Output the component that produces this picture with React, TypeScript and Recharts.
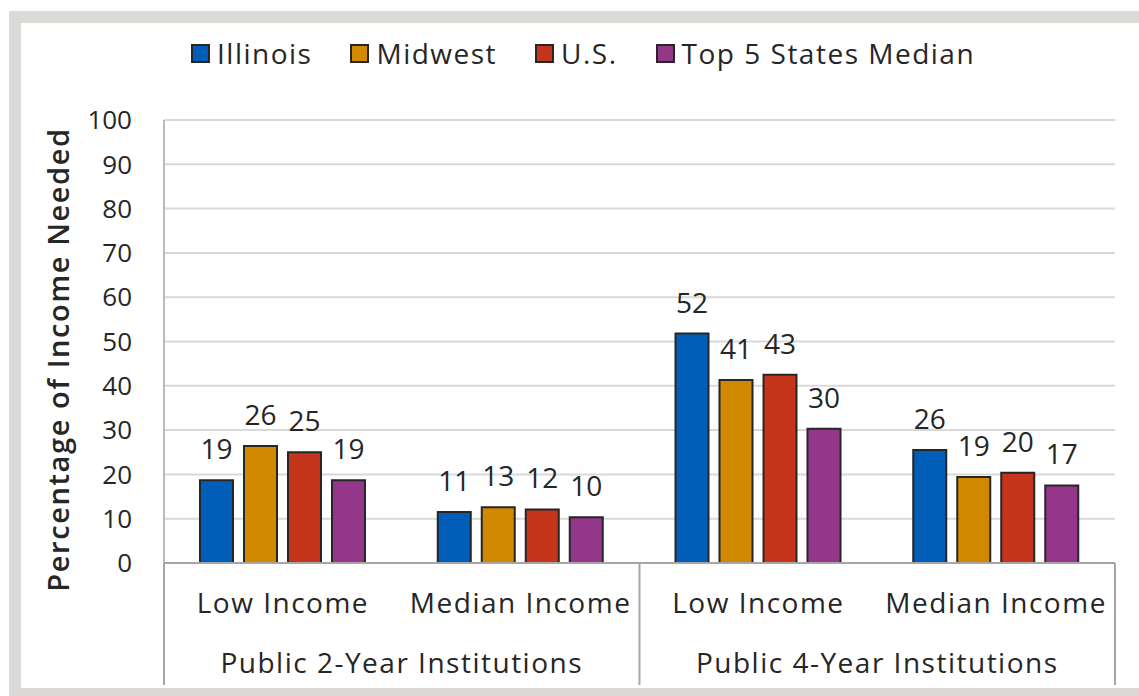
import React from "react";
import {
  BarChart,
  Bar,
  XAxis,
  YAxis,
  CartesianGrid,
  Legend,
  LabelList,
} from "recharts";

const subCategories = ["Low Income", "Median Income", "Low Income", "Median Income"];
const groupOf = [
  "Public 2-Year Institutions",
  "Public 2-Year Institutions",
  "Public 4-Year Institutions",
  "Public 4-Year Institutions",
];

// bar heights, labels as printed
const illinois = [18.7, 11.5, 51.8, 25.5];
const midwest = [26.4, 12.6, 41.3, 19.4];
const us = [25.0, 12.1, 42.5, 20.4];
const top5 = [18.7, 10.3, 30.3, 17.5];

const illinoisLabels = [19, 11, 52, 26];
const midwestLabels = [26, 13, 41, 19];
const usLabels = [25, 12, 43, 20];
const top5Labels = [19, 10, 30, 17];

const yTicks = [0, 10, 20, 30, 40, 50, 60, 70, 80, 90, 100];

const SERIES = [
  { key: "il", name: "Illinois", color: "#005EB8" },
  { key: "mw", name: "Midwest", color: "#D18A00" },
  { key: "us", name: "U.S.", color: "#C4351C" },
  { key: "t5", name: "Top 5 States Median", color: "#94368A" },
];

const data = subCategories.map((sub, i) => ({
  sub,
  group: groupOf[i],
  il: illinois[i],
  mw: midwest[i],
  us: us[i],
  t5: top5[i],
  ilLabel: illinoisLabels[i],
  mwLabel: midwestLabels[i],
  usLabel: usLabels[i],
  t5Label: top5Labels[i],
}));

const FONT = "'Open Sans', 'Noto Sans', sans-serif";
const TEXT = "#262626";
const SUB_AXIS_H = 60;
const GROUP_AXIS_H = 62;
const TICK_GAP = 30;
const SPACING = 1.5;

function LegendContent() {
  return (
    <div style={{ height: 88, fontFamily: FONT }}>
      <div
        style={{
          display: "flex",
          alignItems: "center",
          height: 42,
          paddingLeft: 191,
        }}
      >
        {SERIES.map((s) => (
          <div
            key={s.key}
            style={{ display: "flex", alignItems: "center", marginRight: 38 }}
          >
            <span
              style={{
                width: 15,
                height: 15,
                background: s.color,
                border: `2px solid ${TEXT}`,
                marginRight: 7,
              }}
            />
            <span
              style={{
                fontSize: 28,
                letterSpacing: SPACING,
                color: TEXT,
                lineHeight: "42px",
              }}
            >
              {s.name}
            </span>
          </div>
        ))}
      </div>
    </div>
  );
}

function GroupTick(props: any) {
  const { x, y, payload, index } = props;
  const half = payload.offset ?? (1115 - 164) / 8;
  const axisTop = y - TICK_GAP;
  const sep = (lx: number) => (
    <line
      x1={lx}
      x2={lx}
      y1={axisTop - SUB_AXIS_H}
      y2={axisTop + GROUP_AXIS_H}
      stroke="#a6a6a6"
      strokeWidth={2}
    />
  );
  if (index % 2 === 1) {
    return index === 3 ? sep(x + half) : <g />;
  }
  return (
    <g>
      {sep(x - half)}
      <text
        x={x + half}
        y={y}
        dy="0.71em"
        textAnchor="middle"
        fontSize={28}
        letterSpacing={SPACING}
        fontFamily={FONT}
        fill={TEXT}
      >
        {payload.value}
      </text>
    </g>
  );
}

function YTitle(props: any) {
  const { viewBox } = props;
  const cy = viewBox.y + viewBox.height / 2 + 18;
  const cx = 57;
  return (
    <text
      x={cx}
      y={cy}
      transform={`rotate(-90, ${cx}, ${cy})`}
      textAnchor="middle"
      dominantBaseline="central"
      fontSize={29}
      fontWeight={600}
      letterSpacing={1.6}
      fontFamily={FONT}
      fill={TEXT}
    >
      Percentage of Income Needed
    </text>
  );
}

export default function App() {
  return (
    <div
      style={{
        position: "absolute",
        left: 0,
        top: 0,
        width: 1139,
        height: 696,
        background: "#fff",
      }}
    >
      <div
        style={{
          position: "absolute",
          left: 9,
          top: 11,
          width: 1130,
          height: 685,
          background: "#dcdad6",
        }}
      >
        <div
          style={{
            position: "absolute",
            left: 12,
            top: 12,
            width: 1118,
            height: 665,
            background: "#fff",
          }}
        />
      </div>

      <div style={{ position: "absolute", left: 0, top: 0 }}>
        <BarChart
          width={1139}
          height={696}
          data={data}
          margin={{ top: 32, right: 24, bottom: 11, left: 0 }}
          barSize={33}
          barGap={11}
        >
          <CartesianGrid vertical={false} stroke="#d9d9d9" strokeWidth={2} />
          <Legend
            verticalAlign="top"
            align="left"
            content={<LegendContent />}
            wrapperStyle={{ left: 0, width: 1139 }}
          />
          <YAxis
            width={164}
            domain={[0, 100]}
            ticks={yTicks}
            interval={0}
            tickLine={false}
            tickSize={0}
            tickMargin={32}
            axisLine={{ stroke: "#a6a6a6", strokeWidth: 1.5 }}
            tick={{ fontSize: 26, fontFamily: FONT, fill: TEXT }}
            label={{ content: <YTitle /> }}
          />
          <XAxis
            dataKey="sub"
            height={SUB_AXIS_H}
            interval={0}
            tickLine={false}
            tickSize={0}
            tickMargin={TICK_GAP}
            axisLine={{ stroke: "#a6a6a6", strokeWidth: 2 }}
            tick={{
              fontSize: 28,
              fontFamily: FONT,
              fill: TEXT,
              letterSpacing: SPACING,
            }}
          />
          <XAxis
            xAxisId="group"
            dataKey="group"
            interval={0}
            height={GROUP_AXIS_H}
            axisLine={false}
            tickLine={false}
            tickSize={0}
            tickMargin={TICK_GAP}
            tick={<GroupTick />}
          />
          {SERIES.map((s) => (
            <Bar
              key={s.key}
              dataKey={s.key}
              name={s.name}
              fill={s.color}
              stroke={TEXT}
              strokeWidth={2}
              isAnimationActive={false}
            >
              <LabelList
                dataKey={`${s.key}Label`}
                position="top"
                offset={21}
                fill={TEXT}
                fontSize={28}
                fontFamily={FONT}
              />
            </Bar>
          ))}
        </BarChart>
      </div>
    </div>
  );
}
